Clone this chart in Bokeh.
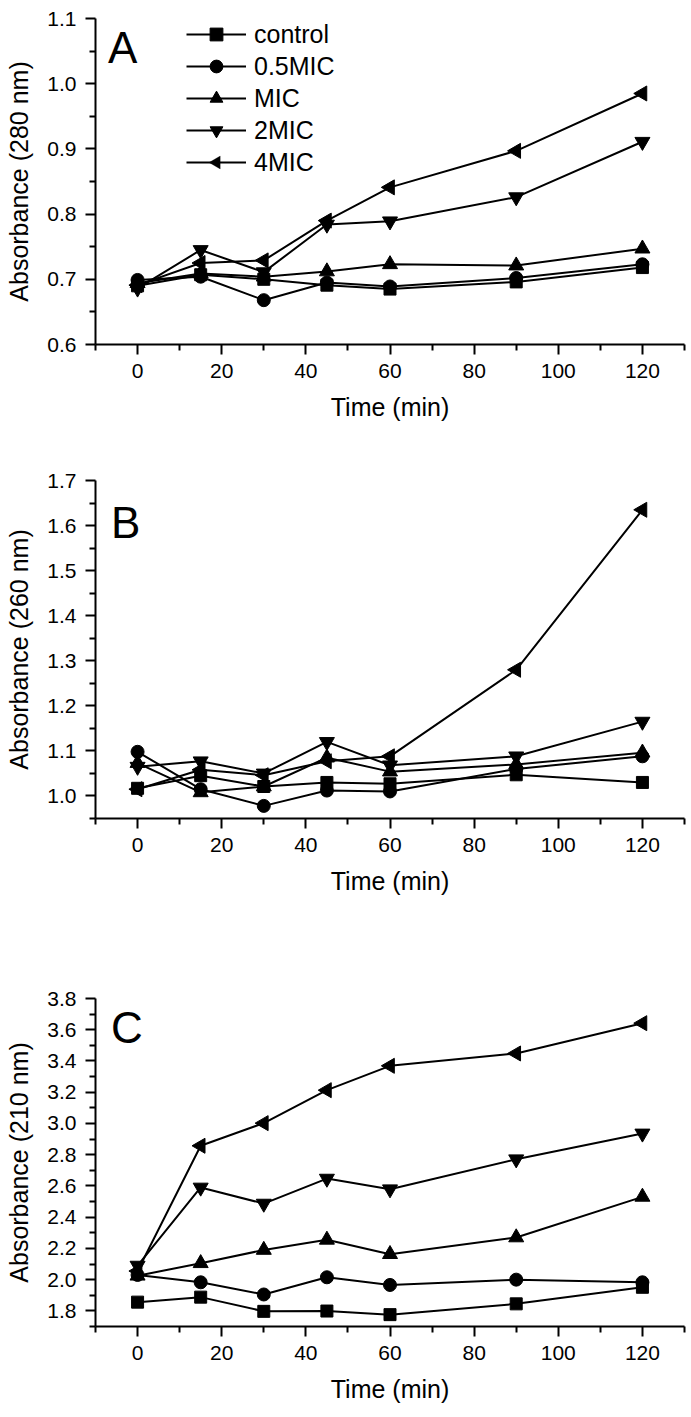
import math
from bokeh.plotting import figure
from bokeh.layouts import column
from bokeh.models import (FixedTicker, PrintfTickFormatter, Legend, LegendItem, Label,
                          Range1d, PolyAnnotation)
from bokeh.embed import file_html
from bokeh.resources import INLINE

# ---------------- data ----------------
time_min = [0, 15, 30, 45, 60, 90, 120]
series_names = ["control", "0.5MIC", "MIC", "2MIC", "4MIC"]

a280_control = [0.690, 0.707, 0.700, 0.691, 0.685, 0.696, 0.718]
a280_half = [0.699, 0.704, 0.668, 0.695, 0.689, 0.702, 0.723]
a280_mic = [0.694, 0.709, 0.704, 0.712, 0.723, 0.721, 0.747]
a280_2mic = [0.686, 0.745, 0.711, 0.784, 0.789, 0.826, 0.911]
a280_4mic = [0.691, 0.725, 0.729, 0.790, 0.841, 0.897, 0.985]

a260_control = [1.017, 1.045, 1.021, 1.030, 1.027, 1.047, 1.030]
a260_half = [1.098, 1.015, 0.978, 1.012, 1.010, 1.060, 1.088]
a260_mic = [1.073, 1.008, 1.021, 1.085, 1.054, 1.070, 1.096]
a260_2mic = [1.065, 1.077, 1.050, 1.120, 1.068, 1.088, 1.165]
a260_4mic = [1.015, 1.058, 1.046, 1.077, 1.088, 1.280, 1.635]

a210_control = [1.856, 1.888, 1.797, 1.799, 1.776, 1.845, 1.951]
a210_half = [2.030, 1.983, 1.905, 2.015, 1.966, 2.000, 1.983]
a210_mic = [2.025, 2.105, 2.190, 2.255, 2.163, 2.270, 2.530]
a210_2mic = [2.090, 2.590, 2.487, 2.647, 2.579, 2.771, 2.936]
a210_4mic = [2.055, 2.857, 3.002, 3.213, 3.369, 3.448, 3.642]

x_major_ticks = [0, 20, 40, 60, 80, 100, 120]
x_minor_ticks = [-10, 10, 30, 50, 70, 90, 110, 130]

a_major = [0.6, 0.7, 0.8, 0.9, 1.0, 1.1]
a_minor = [0.65, 0.75, 0.85, 0.95, 1.05]
b_major = [1.0, 1.1, 1.2, 1.3, 1.4, 1.5, 1.6, 1.7]
b_minor = [0.95, 1.05, 1.15, 1.25, 1.35, 1.45, 1.55, 1.65]
c_major = [1.8, 2.0, 2.2, 2.4, 2.6, 2.8, 3.0, 3.2, 3.4, 3.6, 3.8]
c_minor = [1.7, 1.9, 2.1, 2.3, 2.5, 2.7, 2.9, 3.1, 3.3, 3.5, 3.7]

# ---------------- style ----------------
FONT = "Liberation Sans"
MARKERS = ["square", "circle", "triangle", "inverted_triangle", "triangle"]
ANGLES = [0, 0, 0, 0, math.pi / 2]
SIZES = [12, 13, 15, 15, 15]
W = 688

LEG_X = 91        # legend left, px from frame left
LEG_Y = 166       # legend bottom, px from frame bottom
ROW_H = 32
GLYPH_W = 60


def make_panel(series, ylab, yr, ymaj, ymin, letter, letter_pos, h, top, bottom, with_legend=False):
    p = figure(width=W, height=h, output_backend="svg", toolbar_location=None,
               x_range=Range1d(-10, 130), y_range=Range1d(*yr),
               min_border_left=95, min_border_right=4,
               min_border_top=top, min_border_bottom=bottom,
               background_fill_color="white", border_fill_color="white")
    p.outline_line_color = None
    p.grid.visible = False
    for ax in (p.xaxis[0], p.yaxis[0]):
        ax.axis_line_width = 2
        ax.major_tick_line_width = 2
        ax.minor_tick_line_width = 2
        ax.major_tick_in = 0
        ax.major_tick_out = 10
        ax.minor_tick_in = 0
        ax.minor_tick_out = 6
        ax.major_label_text_font = FONT
        ax.major_label_text_font_size = "21px"
        ax.major_label_text_color = "black"
        ax.axis_label_text_font = FONT
        ax.axis_label_text_font_size = "25px"
        ax.axis_label_text_font_style = "normal"
        ax.axis_label_text_color = "black"
        ax.major_label_standoff = 9
    p.xaxis.ticker = FixedTicker(ticks=x_major_ticks, minor_ticks=x_minor_ticks)
    p.yaxis.ticker = FixedTicker(ticks=ymaj, minor_ticks=ymin)
    p.yaxis.formatter = PrintfTickFormatter(format="%.1f")
    p.xaxis.axis_label = "Time (min)"
    p.yaxis.axis_label = ylab
    p.xaxis.axis_label_standoff = 12
    p.yaxis.axis_label_standoff = 11

    items = []
    for name, ys, mk, ang, sz in zip(series_names, series, MARKERS, ANGLES, SIZES):
        ln = p.line(time_min, ys, line_color="black", line_width=2)
        sc = p.scatter(time_min, ys, marker=mk, size=sz, angle=ang,
                       fill_color="black", line_color="black")
        # the legend cannot rotate a marker, so the left-pointing one is added below
        rends = [ln] if ang != 0 else [ln, sc]
        items.append(LegendItem(label=name, renderers=rends))

    p.add_layout(Label(x=letter_pos[0], y=letter_pos[1], text=letter,
                       text_font=FONT, text_font_size="44px",
                       text_color="black", text_baseline="alphabetic"))

    if with_legend:
        leg = Legend(items=items, location=(LEG_X, LEG_Y), orientation="vertical",
                     glyph_width=GLYPH_W, glyph_height=ROW_H, label_height=ROW_H,
                     spacing=0, padding=0, margin=0, label_standoff=8,
                     label_text_font=FONT, label_text_font_size="25px",
                     label_text_color="black",
                     border_line_color=None, background_fill_alpha=0)
        p.add_layout(leg, "center")
        # left-pointing triangle key for the last (bottom) legend entry
        cy = LEG_Y + ROW_H / 2
        cx = LEG_X + GLYPH_W / 2
        r = 0.4 * ROW_H / 2
        tri = PolyAnnotation(xs=[cx - r * 1.155, cx + r * 0.577, cx + r * 0.577],
                             ys=[cy, cy + r, cy - r],
                             xs_units="screen", ys_units="screen",
                             fill_color="black", fill_alpha=1.0,
                             line_color="black", line_width=1)
        p.add_layout(tri)
    return p


pA = make_panel([a280_control, a280_half, a280_mic, a280_2mic, a280_4mic],
                "Absorbance (280 nm)", (0.6, 1.1), a_major, a_minor,
                "A", (-7.0, 1.055), 455, 18, 111, with_legend=True)
pB = make_panel([a260_control, a260_half, a260_mic, a260_2mic, a260_4mic],
                "Absorbance (260 nm)", (0.95, 1.7), b_major, b_minor,
                "B", (-6.3, 1.606), 465, 25, 102)
pC = make_panel([a210_control, a210_half, a210_mic, a210_2mic, a210_4mic],
                "Absorbance (210 nm)", (1.7, 3.8), c_major, c_minor,
                "C", (-6.3, 3.616), 485, 78, 78)

layout = column(pA, pB, pC, spacing=0)
open("out.html", "w").write(file_html(layout, INLINE))
